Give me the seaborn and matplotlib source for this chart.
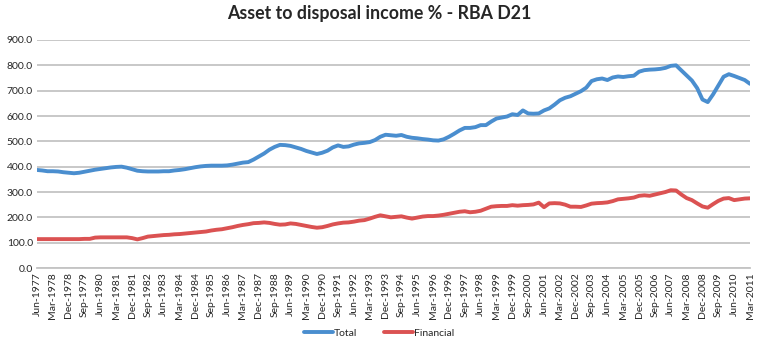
import matplotlib
matplotlib.use("Agg")
import matplotlib.pyplot as plt
import seaborn as sns
import pandas as pd
import numpy as np

# Quarterly periods Jun-1977 .. Mar-2011
months = ["Mar", "Jun", "Sep", "Dec"]
quarters = []
y, q = 1977, 1
while (y, q) <= (2011, 0):
    quarters.append(f"{months[q]}-{y}")
    q += 1
    if q == 4:
        q = 0
        y += 1

total = [387, 385, 382, 382, 381, 378, 376, 374, 376, 380,
         384, 388, 391, 394, 397, 399, 400, 396, 390, 384,
         382, 381, 381, 381, 382, 382, 385, 387, 390, 394,
         398, 401, 403, 404, 404, 404, 405, 408, 412, 416,
         418, 428, 440, 452, 467, 478, 486, 485, 482, 476,
         470, 462, 456, 450, 455, 463, 476, 484, 478, 480,
         487, 492, 494, 497, 505, 518, 526, 524, 522, 525,
         518, 514, 512, 509, 507, 504, 503, 508, 518, 530,
         543, 553, 553, 556, 564, 564, 578, 590, 594, 598,
         607, 604, 622, 610, 609, 610, 622, 630, 645, 662,
         672, 678, 688, 698, 712, 738, 745, 748, 742, 752,
         756, 754, 757, 759, 775, 781, 783, 784, 786, 790,
         798, 800, 780, 760, 740, 710, 665, 655, 685, 720,
         755, 765, 758, 750, 742, 727]

financial = [114, 114, 114, 114, 114, 114, 114, 114, 114, 115,
             115, 120, 121, 121, 121, 121, 121, 121, 118, 113,
             118, 124, 126, 128, 130, 131, 133, 134, 136, 138,
             140, 142, 144, 148, 151, 153, 157, 161, 166, 170,
             173, 177, 178, 180, 178, 174, 171, 172, 176, 174,
             170, 166, 162, 159, 161, 166, 172, 176, 179, 180,
             183, 187, 189, 195, 202, 208, 204, 200, 202, 204,
             199, 195, 199, 203, 205, 205, 207, 210, 214, 218,
             222, 224, 220, 222, 226, 234, 242, 244, 245, 245,
             248, 246, 248, 249, 251, 258, 240, 255, 256, 255,
             250, 242, 242, 241, 247, 254, 256, 257, 259, 264,
             271, 273, 275, 278, 285, 287, 285, 290, 295, 300,
             307, 306, 290, 276, 268, 255, 243, 238, 252, 265,
             274, 276, 268, 271, 274, 275]

series_names = ["Total", "Financial"]
colors = ["#4a8ecf", "#db5252"]

n = len(quarters)
df = pd.DataFrame({
    "idx": list(range(n)) * 2,
    "value": total + financial,
    "series": [series_names[0]] * n + [series_names[1]] * n,
})

sns.set_theme(style="white")
plt.rcParams["font.family"] = ["Lato", "DejaVu Sans"]

fig = plt.figure(figsize=(7.58, 3.43), dpi=100)
ax = fig.add_axes([37 / 758, 1 - 268 / 343, 713 / 758, 228 / 343])

sns.lineplot(data=df, x="idx", y="value", hue="series",
             palette=dict(zip(series_names, colors)), linewidth=2.8,
             ax=ax, legend=False, zorder=3)

ax.set_xlim(0, n - 1)
ax.set_ylim(0, 900)
ax.set_yticks(np.arange(0, 901, 100))
ax.set_yticklabels([f"{v:.1f}" for v in np.arange(0, 901, 100)], fontsize=7.5)
ticks = list(range(0, n, 3))
ax.set_xticks(ticks)
ax.set_xticklabels([quarters[i] for i in ticks], rotation=90, fontsize=7.5)
ax.tick_params(axis="both", length=0, pad=3)
ax.grid(axis="y", color="#c4c4c4", linewidth=1.3)
ax.set_axisbelow(True)
for s in ["left", "right", "top"]:
    ax.spines[s].set_visible(False)
ax.spines["bottom"].set_color("#c4c4c4")
ax.spines["bottom"].set_linewidth(1.3)
ax.set_xlabel("")
ax.set_ylabel("")

fig.text(0.5, 1 - 14 / 343, "Asset to disposal income % - RBA D21",
         ha="center", va="center", fontsize=12.8, fontweight="bold")

from matplotlib.lines import Line2D
handles = [Line2D([0], [0], color=c, linewidth=2.8) for c in colors]
fig.legend(handles, series_names, loc="center", bbox_to_anchor=(0.5, 1 - 333 / 343),
           ncol=2, frameon=False, fontsize=7.5, handlelength=2.8,
           handletextpad=0.1, columnspacing=2.5)

fig.savefig("out.png", dpi=100)
